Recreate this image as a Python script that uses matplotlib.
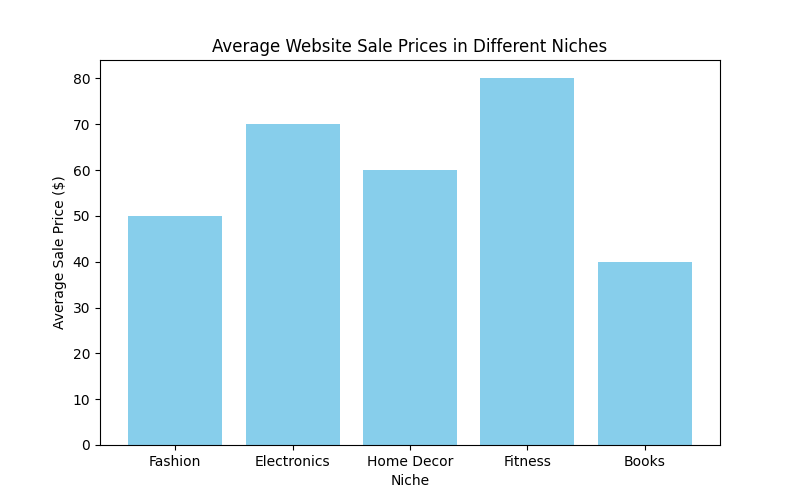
import matplotlib
matplotlib.use("Agg")
import matplotlib.pyplot as plt

niches = ["Fashion", "Electronics", "Home Decor", "Fitness", "Books"]
prices = [50, 70, 60, 80, 40]

fig, ax = plt.subplots(figsize=(8, 5), dpi=100)
ax.bar(niches, prices, color="skyblue")
ax.set_title("Average Website Sale Prices in Different Niches")
ax.set_xlabel("Niche")
ax.set_ylabel("Average Sale Price ($)")
fig.savefig("out.png")
